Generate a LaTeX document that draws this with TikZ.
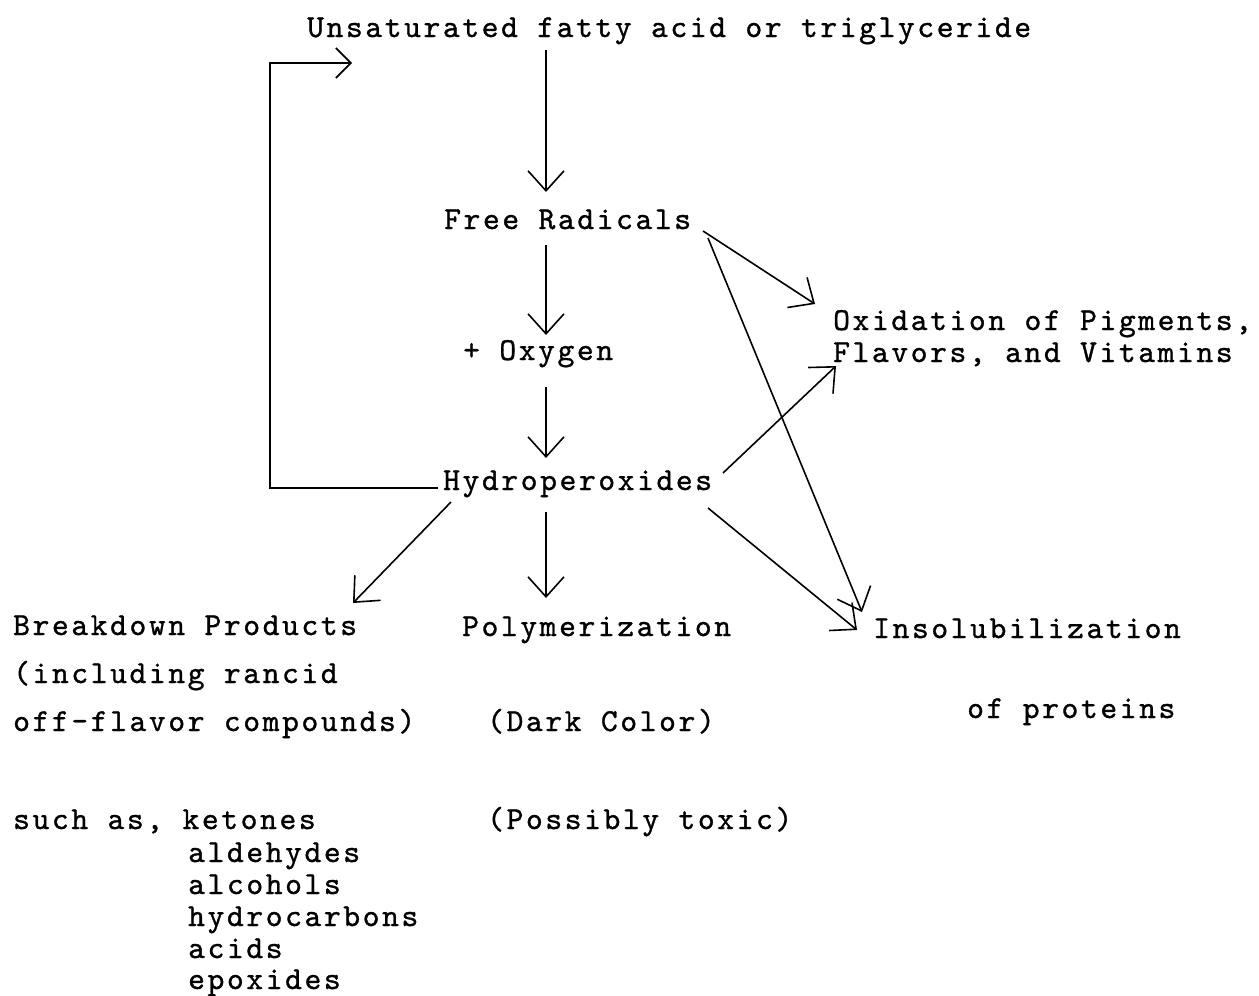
\documentclass[tikz,border=0pt]{standalone}
\usepackage{fontspec}
\newfontfamily\tw{lmmono10-regular.otf}[LetterSpace=8.1,FakeBold=1]
\usetikzlibrary{arrows.meta}
\begin{document}
\begin{tikzpicture}[x=1pt,y=-1pt,
  txt/.style={inner sep=0pt,anchor=base west,font=\fontsize{32}{38}\selectfont\tw},
  con/.style={line width=1.6pt,black},
  arr/.style={con,-{Straight Barb[length=20pt,width=36pt,line width=1.6pt]}},
  barr/.style={con,-{Straight Barb[length=15pt,width=30pt,line width=1.6pt]}}]
\useasboundingbox (0,0) rectangle (1259,996);
% nodes
\node[txt] (uns) at (307,37) {Unsaturated fatty acid or triglyceride};
\node[txt] (fr) at (444,229) {Free Radicals};
\node[txt] (oxy) at (463,360) {+ Oxygen};
\node[txt] (hyd) at (443,490) {Hydroperoxides};
\node[txt] (oxi1) at (833,330) {Oxidation of Pigments,};
\node[txt] (oxi2) at (833,362) {Flavors, and Vitamins};
\node[txt] (bd) at (13,635) {Breakdown Products};
\node[txt] (bd2) at (13,683) {(including rancid};
\node[txt] (bd3) at (13,731) {off-flavor compounds)};
\node[txt] (pol) at (462,636) {Polymerization};
\node[txt] (dark) at (487,731) {(Dark Color)};
\node[txt] (tox) at (487,829) {(Possibly toxic)};
\node[txt] (ins) at (873,638) {Insolubilization};
\node[txt] (prot) at (967,718) {of proteins};
\node[txt] (such) at (13,829) {such as, ketones};
\node[txt] (l1) at (188,862) {aldehydes};
\node[txt] (l2) at (188,894) {alcohols};
\node[txt] (l3) at (188,926) {hydrocarbons};
\node[txt] (l4) at (188,958) {acids};
\node[txt] (l5) at (188,989) {epoxides};
% connectors
\draw[arr] ([shift={(239,13)}]uns.base west) -- ([shift={(102,-37)}]fr.base west);
\draw[arr] ([shift={(102,16)}]fr.base west) -- ([shift={(83,-25)}]oxy.base west);
\draw[arr] ([shift={(83,27)}]oxy.base west) -- ([shift={(103,-32)}]hyd.base west);
\draw[arr] ([shift={(103,22)}]hyd.base west) -- ([shift={(84,-38)}]pol.base west);
\draw[arr] ([shift={(8,12)}]hyd.base west) -- ([shift={(340,-32)}]bd.base west);
\draw[barr] ([shift={(-5,-2)}]hyd.base west) -- ++(-168,0) |- ([shift={(45,26)}]uns.base west);
\draw[arr] ([shift={(259,2)}]fr.base west) -- ([shift={(-18,-26)}]oxi1.base west);
\draw[arr] ([shift={(264,9)}]fr.base west) -- ([shift={(-11,-26)}]ins.base west);
\draw[arr] ([shift={(280,-17)}]hyd.base west) -- ([shift={(3,4)}]oxi2.base west);
\draw[arr] ([shift={(265,18)}]hyd.base west) -- ([shift={(-16,-8)}]ins.base west);
\end{tikzpicture}
\end{document}
